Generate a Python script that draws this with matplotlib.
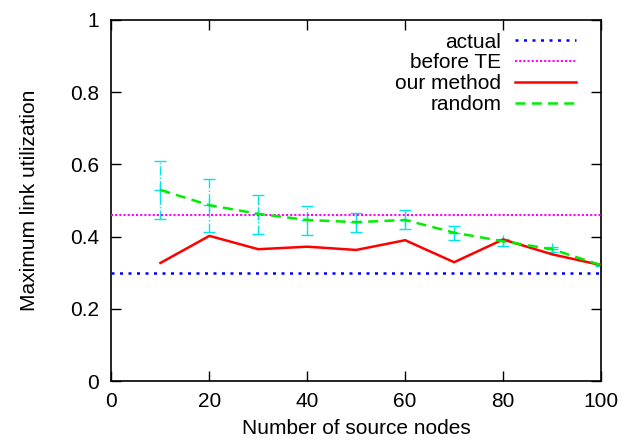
import numpy as np
import matplotlib.pyplot as plt

plt.rcParams['font.family'] = ['Liberation Sans', 'DejaVu Sans']

# number of source nodes
nodes = [10, 20, 30, 40, 50, 60, 70, 80, 90, 100]

# maximum link utilization per approach
actual = 0.30
before_te = 0.46
our_method = [0.327, 0.402, 0.365, 0.372, 0.363, 0.390, 0.329, 0.392, 0.351, 0.321]
random_mean = [0.529, 0.487, 0.463, 0.446, 0.440, 0.446, 0.411, 0.387, 0.365, 0.321]
random_low = [0.450, 0.414, 0.407, 0.405, 0.414, 0.420, 0.390, 0.374, 0.356, 0.319]
random_high = [0.609, 0.559, 0.514, 0.486, 0.466, 0.475, 0.430, 0.394, 0.372, 0.323]

fig = plt.figure(figsize=(6.32, 4.42), dpi=100)
ax = fig.add_axes([0.1764, 0.138, 0.7745, 0.8168])

mean = np.array(random_mean)
yerr = [mean - np.array(random_low), np.array(random_high) - mean]
eb = ax.errorbar(nodes, random_mean, yerr=yerr, fmt='none', ecolor='#00e5e5',
                 elinewidth=1.0, capsize=4, capthick=1.0, zorder=2)
eb[2][0].set_linestyle('-.')
ax.plot(nodes, random_mean, '+', color='#00e5e5', markersize=8, zorder=2)

ax.axhline(actual, color='#0000ff', linestyle=(0, (1.2, 2.2)), linewidth=1.8,
           label='actual', zorder=3)
ax.axhline(before_te, color='#ff00ff', linestyle=(0, (1, 1)), linewidth=1.5,
           label='before TE', zorder=3)
ax.plot(nodes, our_method, color='#ff0000', linewidth=1.8, label='our method', zorder=4)
ax.plot(nodes, random_mean, color='#00ee00', linestyle=(0, (4, 2.5)), linewidth=1.8,
        label='random', zorder=4)

ax.set_xlim(0, 100)
ax.set_ylim(0, 1)
ax.set_xticks(range(0, 101, 20))
ax.set_yticks([0, 0.2, 0.4, 0.6, 0.8, 1])
ax.set_yticklabels(['0', '0.2', '0.4', '0.6', '0.8', '1'])
ax.tick_params(direction='in', length=7.5, width=1, top=True, right=True,
               labelsize=15)
ax.tick_params(axis='x', pad=8)
ax.tick_params(axis='y', pad=9)
for s in ax.spines.values():
    s.set_linewidth(1.2)

ax.set_xlabel('Number of source nodes', fontsize=15, labelpad=6)
ax.set_ylabel('Maximum link utilization', fontsize=15, labelpad=22)

ax.legend(loc='upper right', bbox_to_anchor=(0.987, 1.017), frameon=False,
          markerfirst=False, fontsize=15, handlelength=2.9, handletextpad=0.67,
          labelspacing=0.09, borderpad=0.4)

fig.savefig('out.png', dpi=100)
